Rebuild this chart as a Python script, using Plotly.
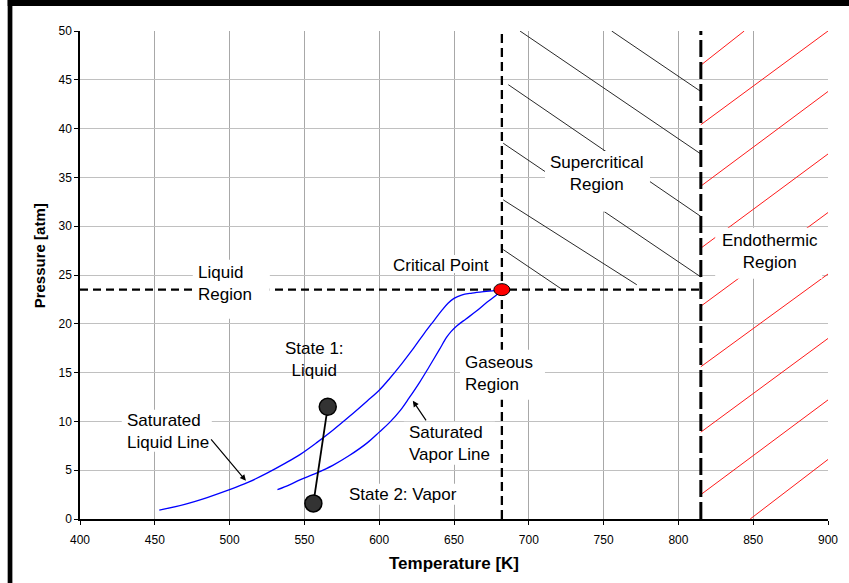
import plotly.graph_objects as go

# ---------------- data ----------------
x_ticks = [400, 450, 500, 550, 600, 650, 700, 750, 800, 850, 900]
y_ticks = [0, 5, 10, 15, 20, 25, 30, 35, 40, 45, 50]

# saturated liquid line
liq_T = [453, 470, 485, 500, 513, 525, 537, 547, 558, 569, 580, 592, 600, 607,
         615, 623, 630, 637, 642, 646, 650, 655, 662, 670, 677, 682]
liq_P = [0.9, 1.5, 2.2, 3.0, 3.8, 4.7, 5.7, 6.6, 7.8, 9.1, 10.5, 12.1, 13.2, 14.4,
         15.9, 17.5, 19.0, 20.4, 21.4, 22.1, 22.6, 22.95, 23.15, 23.3, 23.4, 23.5]

# saturated vapor line
vap_T = [532, 540, 547, 558, 569, 580, 592, 600, 607, 614, 620, 627, 633, 640,
         645, 648, 652, 658, 665, 672, 678, 682]
vap_P = [3.0, 3.5, 4.0, 4.7, 5.5, 6.5, 7.8, 8.9, 9.9, 11.1, 12.4, 14.0, 15.5, 17.3,
         18.6, 19.2, 19.8, 20.5, 21.3, 22.2, 22.9, 23.5]

crit_T = 682.0          # critical temperature [K]
crit_P = 23.5           # critical pressure [atm]
endo_T = 815.0          # endothermic boundary [K]

state_T = [565.6, 556.0]   # state 1 (liquid), state 2 (vapor)
state_P = [11.5, 1.6]

# supercritical hatch segments (black)
super_T0 = [694.1, 755.4, 686.3, 682.9, 682.9, 682.9]
super_P0 = [50.0, 50.0, 44.5, 38.5, 32.7, 27.6]
super_T1 = [815.0, 815.0, 815.0, 815.0, 772.2, 722.0]
super_P1 = [37.4, 43.8, 31.0, 24.8, 24.0, 23.55]

# endothermic hatch segments (red)
endo_T0 = [815.0, 815.0, 815.0, 815.0, 815.0, 815.0, 815.0, 815.0, 848.0]
endo_P0 = [46.5, 40.4, 34.1, 27.75, 21.8, 15.6, 8.9, 2.5, 0.0]
endo_T1 = [844.0, 900.0, 900.0, 900.0, 900.0, 900.0, 900.0, 900.0, 900.0]
endo_P1 = [50.0, 50.0, 43.8, 37.4, 31.4, 25.1, 18.5, 12.2, 6.1]

# text labels: text, x, y, xanchor, align, white box (T0, T1, P0, P1)
labels = [
    dict(text="Supercritical<br>Region", x=745.6, y=35.4, xanchor="center", align="center",
         box=(710.8, 781.0, 31.47, 37.71)),
    dict(text="Endothermic<br>Region", x=860.9, y=27.45, xanchor="center", align="center",
         box=(824.6, 896.1, 24.61, 29.83)),
    dict(text="Gaseous<br>Region", x=656.6, y=14.9, xanchor="left", align="left",
         box=(654.0, 710.8, 12.22, 17.34)),
    dict(text="Liquid<br>Region", x=477.9, y=24.15, xanchor="left", align="left",
         box=(475.4, 526.9, 20.51, 26.55)),
    dict(text="Saturated<br>Liquid Line", x=430.6, y=9.0, xanchor="left", align="left",
         box=(427.9, 488.1, 6.89, 11.19)),
    dict(text="Saturated<br>Vapor Line", x=619.2, y=7.71, xanchor="left", align="left",
         box=(616.5, 677.4, 5.56, 9.96)),
    dict(text="State 2: Vapor", x=578.9, y=2.56, xanchor="left", align="left",
         box=(576.4, 654.7, 1.46, 3.61)),
    dict(text="Critical Point", x=608.3, y=25.97, xanchor="left", align="left",
         box=(605.8, 675.4, 25.2, 27.06)),
    dict(text="State 1:<br>Liquid", x=557.0, y=16.31, xanchor="center", align="center",
         box=None),
]

# arrows: head (x, y) and tail (ax, ay)
arrows = [
    dict(x=510.9, y=3.92, ax=486.8, ay=8.32),
    dict(x=622.5, y=12.11, ax=632.0, ay=9.96),
]

FONT = "Liberation Sans, Arial, Helvetica, sans-serif"


def segments(t0, p0, t1, p1):
    xs, ys = [], []
    for a, b, c, d in zip(t0, p0, t1, p1):
        xs += [a, c, None]
        ys += [b, d, None]
    return xs, ys


fig = go.Figure()

# hatching
hx, hy = segments(super_T0, super_P0, super_T1, super_P1)
fig.add_trace(go.Scatter(x=hx, y=hy, mode="lines", line=dict(color="#111111", width=0.9),
                         hoverinfo="skip", showlegend=False))
rx, ry = segments(endo_T0, endo_P0, endo_T1, endo_P1)
fig.add_trace(go.Scatter(x=rx, y=ry, mode="lines", line=dict(color="#ff1a1a", width=1),
                         hoverinfo="skip", showlegend=False))

# dashed boundaries
fig.add_trace(go.Scatter(x=[400, endo_T], y=[crit_P, crit_P], mode="lines",
                         line=dict(color="black", width=2.3, dash="8px,5px"),
                         hoverinfo="skip", showlegend=False))
fig.add_trace(go.Scatter(x=[crit_T, crit_T], y=[0, 50], mode="lines",
                         line=dict(color="black", width=2.3, dash="9px,5px"),
                         hoverinfo="skip", showlegend=False))
fig.add_trace(go.Scatter(x=[endo_T, endo_T], y=[0, 50], mode="lines",
                         line=dict(color="black", width=3, dash="17px,5px"),
                         hoverinfo="skip", showlegend=False))

# saturation lines
fig.add_trace(go.Scatter(x=liq_T, y=liq_P, mode="lines", line=dict(color="#0000ff", width=1.3),
                         line_shape="spline", showlegend=False))
fig.add_trace(go.Scatter(x=vap_T, y=vap_P, mode="lines", line=dict(color="#0000ff", width=1.3),
                         line_shape="spline", showlegend=False))

# states
fig.add_trace(go.Scatter(x=state_T, y=state_P, mode="lines", line=dict(color="black", width=1.8),
                         showlegend=False))
fig.add_trace(go.Scatter(x=state_T, y=state_P, mode="markers",
                         marker=dict(size=17, color="#333333", line=dict(color="black", width=1.5)),
                         showlegend=False))

shapes = []
for lab in labels:
    if lab["box"] is not None:
        t0, t1, p0, p1 = lab["box"]
        shapes.append(dict(type="rect", xref="x", yref="y", x0=t0, x1=t1, y0=p0, y1=p1,
                           fillcolor="white", line=dict(width=0), layer="above"))

# critical point (ellipse in pixel size, anchored at data point)
shapes.append(dict(type="circle", xref="x", yref="y", xsizemode="pixel", ysizemode="pixel",
                   xanchor=crit_T, yanchor=crit_P, x0=-8, x1=8, y0=-6, y1=6,
                   fillcolor="#ff0000", line=dict(color="black", width=1), layer="above"))

# outer frame fragments (top and left black bars)
shapes.append(dict(type="rect", xref="paper", yref="paper", x0=-0.0967, x1=1.05,
                   y0=1.0512, y1=1.08, fillcolor="black", line=dict(width=0)))
shapes.append(dict(type="rect", xref="paper", yref="paper", x0=-0.0967, x1=-0.0904,
                   y0=-0.15, y1=1.08, fillcolor="black", line=dict(width=0)))

annotations = []
for lab in labels:
    annotations.append(dict(text=lab["text"], x=lab["x"], y=lab["y"], xref="x", yref="y",
                            xanchor=lab["xanchor"], yanchor="middle", align=lab["align"],
                            showarrow=False, borderpad=0,
                            font=dict(family=FONT, size=17, color="black")))
for ar in arrows:
    annotations.append(dict(text="", x=ar["x"], y=ar["y"], ax=ar["ax"], ay=ar["ay"],
                            xref="x", yref="y", axref="x", ayref="y", showarrow=True,
                            arrowhead=2, arrowsize=1, arrowwidth=1.2, arrowcolor="black"))
# y axis title
annotations.append(dict(text="<b>Pressure [atm]</b>", xref="paper", yref="paper",
                        x=-0.053, y=0.539, xanchor="center", yanchor="middle",
                        textangle=-90, showarrow=False,
                        font=dict(family=FONT, size=15, color="black")))

fig.update_layout(
    width=849, height=583,
    margin=dict(l=80, r=21, t=31, b=64),
    paper_bgcolor="white", plot_bgcolor="white",
    font=dict(family=FONT, size=12, color="black"),
    shapes=shapes, annotations=annotations,
    xaxis=dict(range=[400, 900], tickvals=x_ticks, showgrid=True, gridcolor="#a8a8a8",
               gridwidth=1, zeroline=False, showline=True, linecolor="black", linewidth=1.5,
               ticks="outside", ticklen=4, tickcolor="black", ticklabelstandoff=5,
               tickfont=dict(family=FONT, size=12, color="black"),
               title=dict(text="<b>Temperature [K]</b>", standoff=11,
                          font=dict(family=FONT, size=17, color="black"))),
    yaxis=dict(range=[0, 50], tickvals=y_ticks, showgrid=True, gridcolor="#c0c0c0",
               gridwidth=1, zeroline=False, showline=True, linecolor="black", linewidth=1.5,
               ticks="outside", ticklen=4, tickcolor="black",
               tickfont=dict(family=FONT, size=12, color="black")),
)

fig.write_html("out.html", config={"displayModeBar": False},
               post_script="document.body.style.margin='0';document.body.style.overflow='hidden';")
